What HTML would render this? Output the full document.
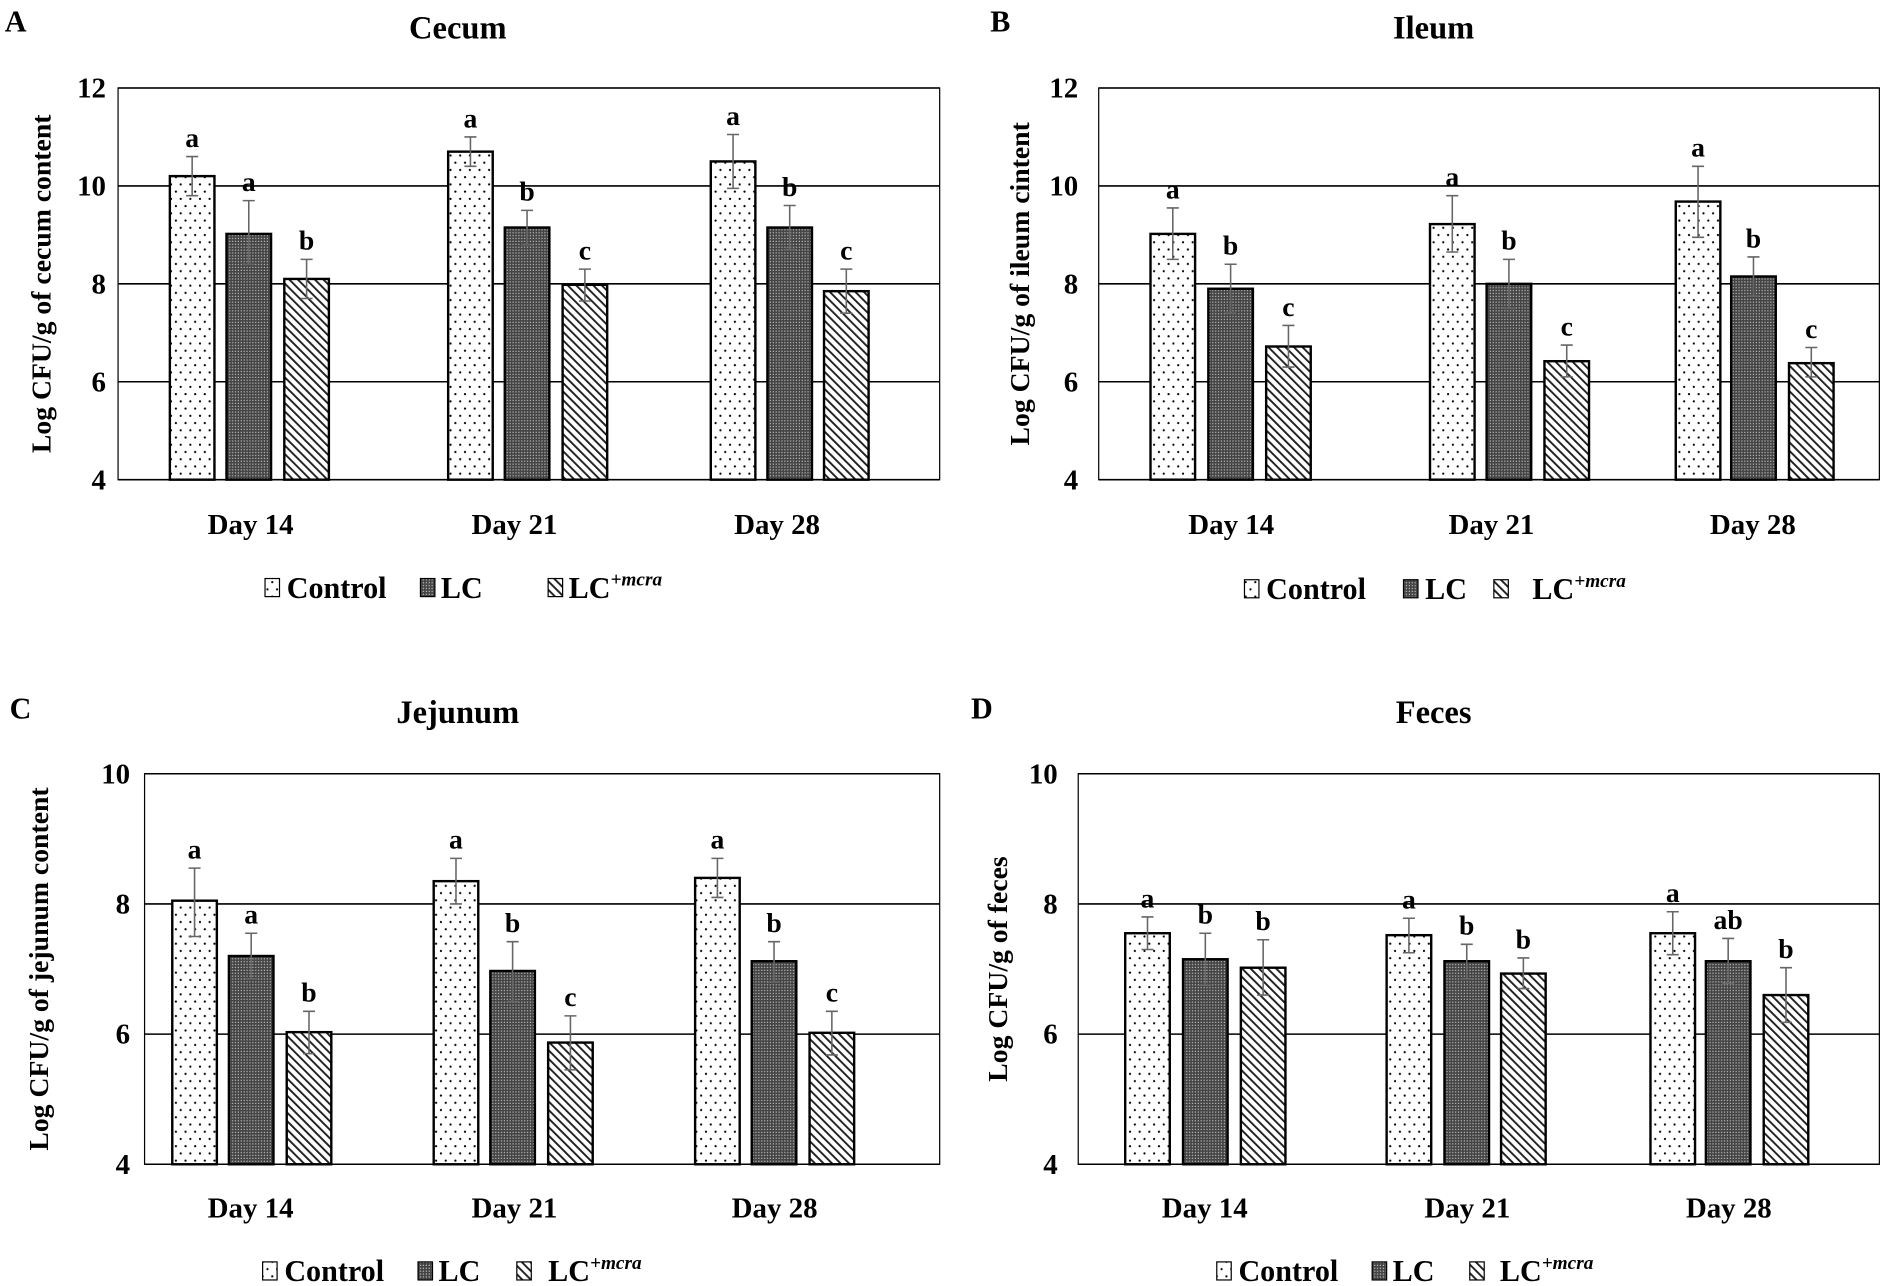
<!DOCTYPE html>
<html><head><meta charset="utf-8">
<style>
html,body{margin:0;padding:0;background:#fff;}
svg{display:block;font-family:"Liberation Serif",serif;font-weight:bold;}
</style></head><body>
<svg id="s" width="1889" height="1286" viewBox="0 0 1568 1067" preserveAspectRatio="none" xmlns="http://www.w3.org/2000/svg">
<defs>
<pattern id="pDot" width="8" height="12" patternUnits="userSpaceOnUse">
<rect width="8" height="12" fill="#fff"/>
<circle cx="2" cy="3" r="0.9" fill="#000"/><circle cx="6" cy="9" r="0.9" fill="#000"/>
</pattern>
<pattern id="pLC" width="2.4" height="2.4" patternUnits="userSpaceOnUse">
<rect width="2.4" height="2.4" fill="#444"/>
<rect x="0.6" y="0.6" width="1" height="1" fill="#bbb"/>
</pattern>
<pattern id="pDiag" width="5" height="5" patternUnits="userSpaceOnUse" patternTransform="rotate(-45)">
<rect width="5" height="5" fill="#fff"/>
<rect x="0" y="0" width="1.6" height="5" fill="#222"/>
</pattern>
</defs>
<g id="g"></g>
</svg>
<script>
var P=[
{L:"A",lx:4,ly:26,t:"Cecum",tx:380,ty:32,x0:98,x1:780,y0:73,y1:398,min:4,max:12,ticks:[4,6,8,10,12],tlx:88,yl:"Log CFU/g of cecum content",ylx:42,
 bx:[[141,188,236],[372,419,467],[590,637,684]],dl:[208,427,645],dy:443,
 v:[[10.2,9.8,10.6,"a"],[9.02,8.4,9.7,"a"],[8.1,7.7,8.5,"b"],[10.7,10.4,11.0,"a"],[9.15,8.8,9.5,"b"],[7.98,7.65,8.3,"c"],[10.5,9.95,11.05,"a"],[9.15,8.7,9.6,"b"],[7.85,7.4,8.3,"c"]],
 lg:[220,238,349,366,455,472],lgy:487},
{L:"B",lx:822,ly:26,t:"Ileum",tx:1190,ty:32,x0:912,x1:1560,y0:73,y1:398,min:4,max:12,ticks:[4,6,8,10,12],tlx:895,yl:"Log CFU/g of ileum cintent",ylx:854,
 bx:[[955,1003,1051],[1187,1234,1282],[1391,1437,1485]],dl:[1022,1238,1455],dy:443,
 v:[[9.02,8.5,9.55,"a"],[7.9,7.4,8.4,"b"],[6.72,6.3,7.15,"c"],[9.22,8.65,9.8,"a"],[8.0,7.5,8.5,"b"],[6.42,6.1,6.75,"c"],[9.68,8.95,10.4,"a"],[8.15,7.75,8.55,"b"],[6.38,6.1,6.7,"c"]],
 lg:[1033,1051,1165,1183,1240,1272],lgy:488},
{L:"C",lx:8,ly:596,t:"Jejunum",tx:380,ty:600,x0:120,x1:780,y0:642,y1:966,min:4,max:10,ticks:[4,6,8,10],tlx:108,yl:"Log CFU/g of jejunum  content",ylx:40,
 bx:[[143,190,238],[360,407,455],[577,624,672]],dl:[208,427,643],dy:1010,
 v:[[8.05,7.5,8.55,"a"],[7.2,6.85,7.55,"a"],[6.03,5.7,6.35,"b"],[8.35,8.0,8.7,"a"],[6.97,6.5,7.42,"b"],[5.87,5.45,6.28,"c"],[8.4,8.1,8.7,"a"],[7.12,6.8,7.42,"b"],[6.02,5.68,6.35,"c"]],
 lg:[218,236,347,364,429,455],lgy:1054},
{L:"D",lx:806,ly:596,t:"Feces",tx:1190,ty:600,x0:895,x1:1560,y0:642,y1:966,min:4,max:10,ticks:[4,6,8,10],tlx:878,yl:"Log CFU/g of feces",ylx:836,
 bx:[[934,982,1030],[1151,1199,1246],[1370,1416,1464]],dl:[1000,1218,1435],dy:1010,
 v:[[7.55,7.3,7.8,"a"],[7.15,6.75,7.55,"b"],[7.02,6.6,7.45,"b"],[7.52,7.25,7.78,"a"],[7.12,6.85,7.38,"b"],[6.93,6.7,7.17,"b"],[7.55,7.22,7.88,"a"],[7.12,6.78,7.47,"ab"],[6.6,6.18,7.02,"b"]],
 lg:[1010,1028,1139,1156,1220,1245],lgy:1054}
];
var fills=["url(#pDot)","url(#pLC)","url(#pDiag)"];
var h="";
P.forEach(function(p){
 function Y(v){return p.y1-(v-p.min)/(p.max-p.min)*(p.y1-p.y0);}
 h+='<text x="'+p.lx+'" y="'+p.ly+'" font-size="25">'+p.L+'</text>';
 h+='<text x="'+p.tx+'" y="'+p.ty+'" font-size="27" text-anchor="middle">'+p.t+'</text>';
 h+='<rect x="'+p.x0+'" y="'+p.y0+'" width="'+(p.x1-p.x0)+'" height="'+(p.y1-p.y0)+'" fill="none" stroke="#000" stroke-width="1"/>';
 p.ticks.forEach(function(t){var y=Y(t);
  h+='<line x1="'+p.x0+'" x2="'+p.x1+'" y1="'+y+'" y2="'+y+'" stroke="#000" stroke-width="1.3"/>';
  h+='<text x="'+p.tlx+'" y="'+(y+8)+'" font-size="24" text-anchor="end">'+t+'</text>';});
 var cy=(p.y0+p.y1)/2;
 h+='<text transform="translate('+p.ylx+','+cy+') rotate(-90)" font-size="23" text-anchor="middle">'+p.yl+'</text>';
 for(var g=0;g<3;g++){for(var k=0;k<3;k++){var d=p.v[g*3+k],x=p.bx[g][k],w=37,yt=Y(d[0]);
  h+='<rect x="'+x+'" y="'+yt+'" width="'+w+'" height="'+(p.y1-yt)+'" fill="'+fills[k]+'" stroke="#000" stroke-width="2"/>';
  var cx=x+w/2,ya=Y(d[2]),yb=Y(d[1]);
  h+='<path d="M'+cx+' '+ya+'V'+yb+'M'+(cx-5)+' '+ya+'h10M'+(cx-5)+' '+yb+'h10" stroke="#666" stroke-width="1.3" fill="none"/>';
  h+='<text x="'+cx+'" y="'+(ya-8)+'" font-size="23" text-anchor="middle">'+d[3]+'</text>';}
  h+='<text x="'+p.dl[g]+'" y="'+p.dy+'" font-size="24" text-anchor="middle">Day '+[14,21,28][g]+'</text>';}
 var l=p.lg,ly=p.lgy;
 for(var k=0;k<3;k++){h+='<rect x="'+l[k*2]+'" y="'+(ly-7)+'" width="12" height="15" fill="'+fills[k]+'" stroke="#000" stroke-width="1"/>';}
 h+='<text x="'+l[1]+'" y="'+(ly+9)+'" font-size="25">Control</text>';
 h+='<text x="'+l[3]+'" y="'+(ly+9)+'" font-size="25">LC</text>';
 h+='<text x="'+l[5]+'" y="'+(ly+9)+'" font-size="25">LC<tspan dy="-10" font-size="16" font-style="italic">+mcra</tspan></text>';
});
document.getElementById("g").innerHTML=h;
</script>
</body></html>
